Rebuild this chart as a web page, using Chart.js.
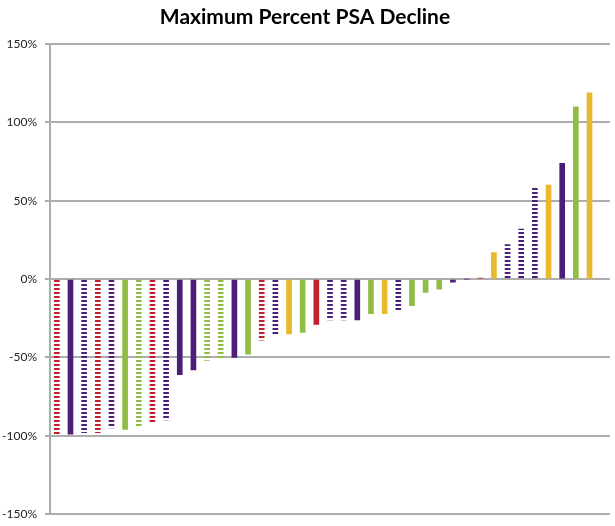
<!DOCTYPE html>
<html>
<head>
<meta charset="utf-8">
<script src="https://cdn.jsdelivr.net/npm/chart.js@4.4.1/dist/chart.umd.min.js"></script>
<style>
  html, body { margin: 0; padding: 0; background: #fff; }
  #wrap { width: 615px; height: 526px; }
</style>
</head>
<body>
<div id="wrap"><canvas id="psaChart"></canvas></div>
<script>
// one entry per patient, sorted by response (last slot left empty like the original)
const patients = ["1","2","3","4","5","6","7","8","9","10","11","12","13","14","15","16","17","18","19","20",
                  "21","22","23","24","25","26","27","28","29","30","31","32","33","34","35","36","37","38","39","40",""];
const psaDecline = [-100,-99,-98,-98,-95,-96,-94,-92,-90,-61,-58,-52,-51,-50,-48,-39,-36,-35,-34,-29,
                    -26,-26,-26,-22,-22,-20,-17,-8.5,-6.5,-2,0,0.6,17,22,32,58,60,74,110,119,null];
const cohort = ["red","purple","purple","red","purple","green","green","red","purple","purple","purple","green","green","purple","green","red","purple","gold","green","red",
                "purple","purple","purple","green","gold","purple","green","green","green","purple","purple","red","gold","purple","purple","purple","gold","purple","green","gold",""];
const hatched = [1,0,1,1,1,0,1,1,1,0,0,1,1,0,0,1,1,0,0,0,
                 1,1,0,0,0,1,0,0,0,0,0,0,0,1,1,1,0,0,0,0,0];
const yTicks = [-150,-100,-50,0,50,100,150];

const palette = { red: "#c0202c", purple: "#4b1f78", green: "#8fbd45", gold: "#e8b92a", "": "#ffffff" };

function stripes(color) {
    const c = document.createElement("canvas");
    c.width = 8; c.height = 4;
    const g = c.getContext("2d");
    g.fillStyle = color;
    g.fillRect(0, 0, 8, 2);
    return g.createPattern(c, "repeat");
}

document.addEventListener("DOMContentLoaded", function () {
    const ctx = document.getElementById("psaChart").getContext("2d");
    const fills = cohort.map((c, i) => hatched[i] ? stripes(palette[c]) : palette[c]);

    new Chart(ctx, {
        type: "bar",
        data: {
            labels: patients,
            datasets: [{
                data: psaDecline,
                backgroundColor: fills,
                borderWidth: 0,
                barThickness: 5,
                categoryPercentage: 1
            }]
        },
        options: {
            responsive: true,
            maintainAspectRatio: false,
            animation: false,
            layout: { padding: { left: 0, right: 5, top: 0, bottom: 12 } },
            plugins: {
                legend: { display: false },
                tooltip: { enabled: false },
                title: {
                    display: true,
                    text: "Maximum Percent PSA Decline",
                    color: "#000",
                    font: { family: "Lato", size: 21, weight: "bold" },
                    padding: { top: 5, bottom: 14 }
                }
            },
            scales: {
                x: { display: false },
                y: {
                    min: -150, max: 150,
                    afterFit: function (s) { s.width = 50; s.paddingTop = 0; s.paddingBottom = 0; },
                    afterBuildTicks: function (s) { s.ticks = yTicks.map(v => ({ value: v })); },
                    ticks: {
                        color: "#222",
                        font: { family: "Lato", size: 12 },
                        padding: 8,
                        callback: v => v + "%"
                    },
                    grid: { color: "#adadad", lineWidth: 2, tickLength: 5 },
                    border: { color: "#adadad", width: 2 }
                }
            }
        }
    });
});
</script>
</body>
</html>
